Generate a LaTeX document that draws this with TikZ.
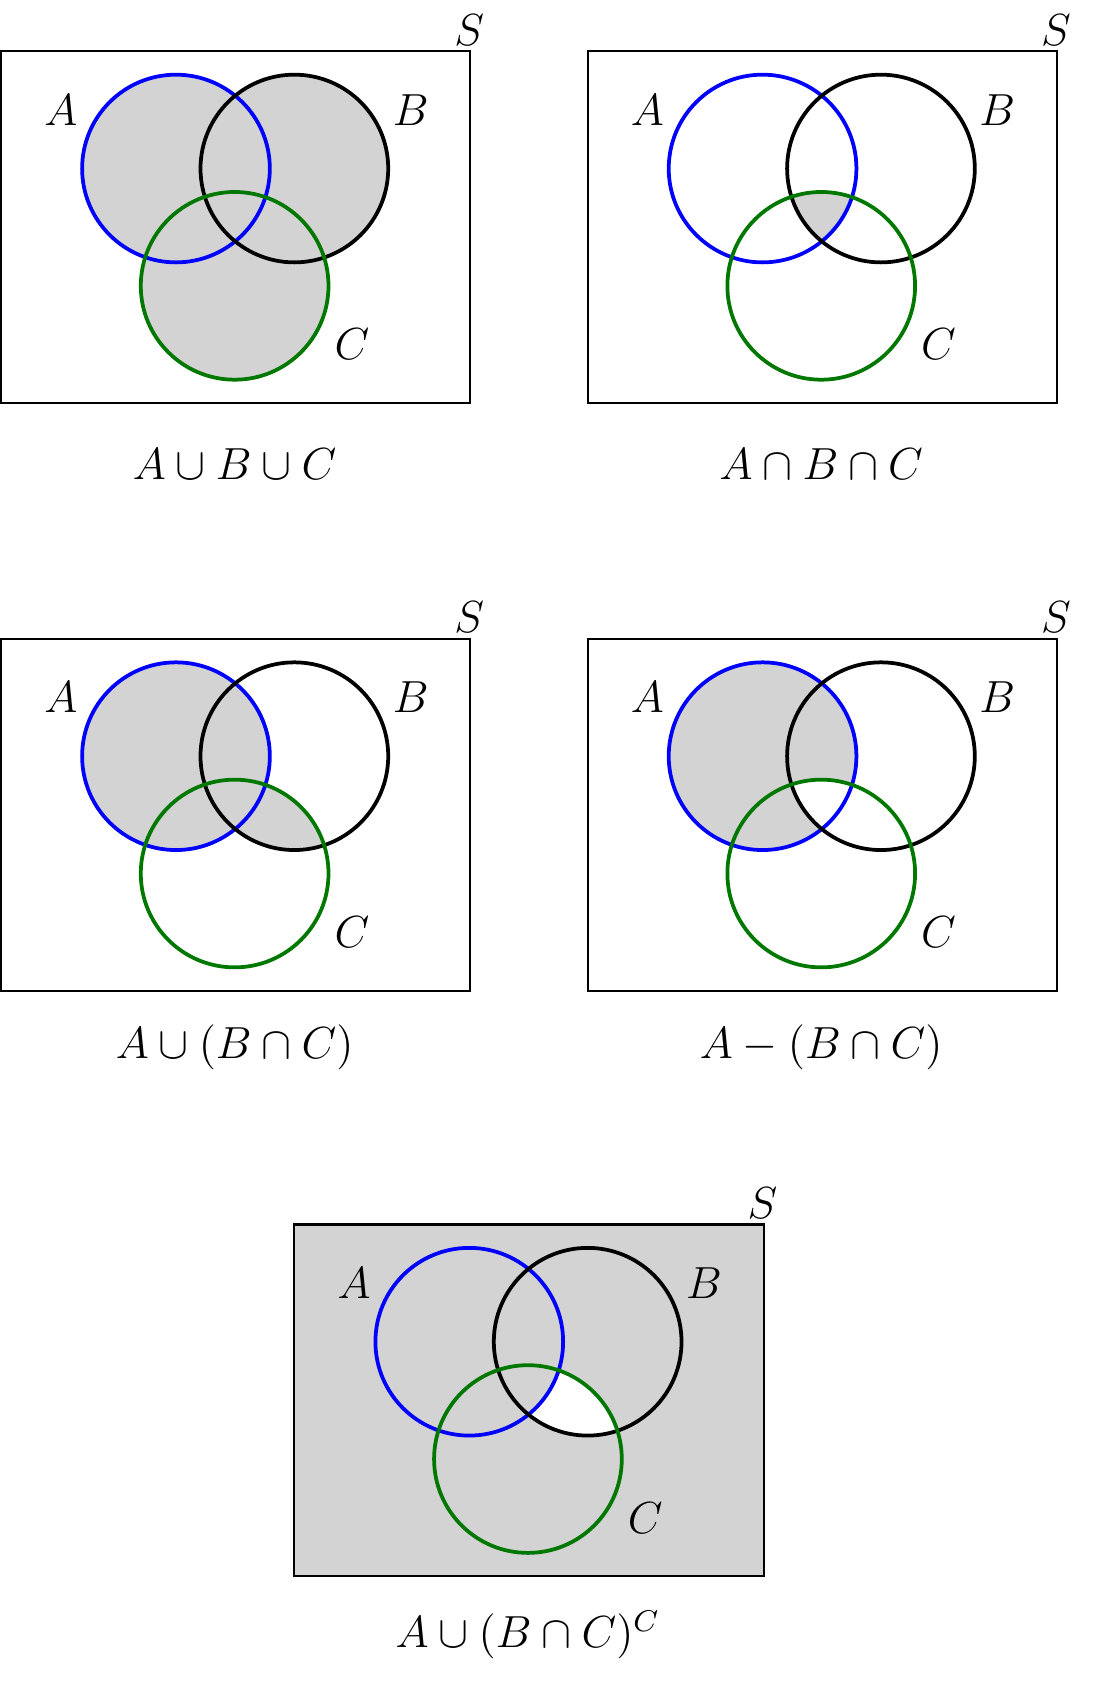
\documentclass[tikz,border=0pt]{standalone}
\usepackage{amssymb,amsmath}
\usetikzlibrary{positioning}
\definecolor{vennfill}{RGB}{211,211,211}
\definecolor{cgreen}{RGB}{0,120,0}
\tikzset{
  setA/.style={draw=blue,line width=1pt},
  setB/.style={draw=black,line width=1pt},
  setC/.style={draw=cgreen,line width=1pt},
  universe/.style={draw=black,line width=0.6pt},
  lbl/.style={font=\large}
}
% circles and labels of one panel, in local coordinates
\newcommand{\vennframe}[1]{%
  \draw[universe] (0.01,-0.48) rectangle (4.41,-3.78);
  \draw[setA] (1.65,-1.58) circle [radius=0.88];
  \draw[setB] (2.76,-1.58) circle [radius=0.88];
  \draw[setC] (2.20,-2.68) circle [radius=0.88];
  \node[lbl] (a#1) at (0.57,-1.03) {$A$};
  \node[lbl] (b#1) at (3.85,-1.03) {$B$};
  \node[lbl] (c#1) at (3.30,-3.23) {$C$};
  \node[lbl] (s#1) at (4.40,-0.28) {$S$};
}
\newcommand{\cA}{(1.65,-1.58) circle [radius=0.88]}
\newcommand{\cB}{(2.76,-1.58) circle [radius=0.88]}
\newcommand{\cC}{(2.20,-2.68) circle [radius=0.88]}

\begin{document}
\begin{tikzpicture}
  \useasboundingbox (0,0) rectangle (10.24,-15.78);

  % A u B u C
  \begin{scope}
    \fill[vennfill] \cA \cB \cC;
    \vennframe{1}
    \node[lbl] (cap1) at (2.20,-4.35) {$A\cup B\cup C$};
  \end{scope}

  % A n B n C
  \begin{scope}[xshift=5.5cm]
    \begin{scope}
      \clip \cA; \clip \cB; \fill[vennfill] \cC;
    \end{scope}
    \vennframe{2}
    \node[lbl] (cap2) at (2.20,-4.35) {$A\cap B\cap C$};
  \end{scope}

  % A u (B n C)
  \begin{scope}[yshift=-5.51cm]
    \fill[vennfill] \cA;
    \begin{scope}
      \clip \cB; \fill[vennfill] \cC;
    \end{scope}
    \vennframe{3}
    \node[lbl] (cap3) at (2.20,-4.31) {$A\cup(B\cap C)$};
  \end{scope}

  % A - (B n C)
  \begin{scope}[xshift=5.5cm,yshift=-5.51cm]
    \fill[vennfill] \cA;
    \begin{scope}
      \clip \cB; \fill[white] \cC;
    \end{scope}
    \vennframe{4}
    \node[lbl] (cap4) at (2.20,-4.31) {$A-(B\cap C)$};
  \end{scope}

  % A u (B n C)^C
  \begin{scope}[xshift=2.75cm,yshift=-11.0cm]
    \fill[vennfill] (0.01,-0.48) rectangle (4.41,-3.78);
    \begin{scope}
      \clip \cB; \fill[white] \cC;
    \end{scope}
    \fill[vennfill] \cA;
    \vennframe{5}
    \node[lbl] (cap5) at (2.20,-4.33) {$A\cup(B\cap C)^C$};
  \end{scope}
\end{tikzpicture}
\end{document}
